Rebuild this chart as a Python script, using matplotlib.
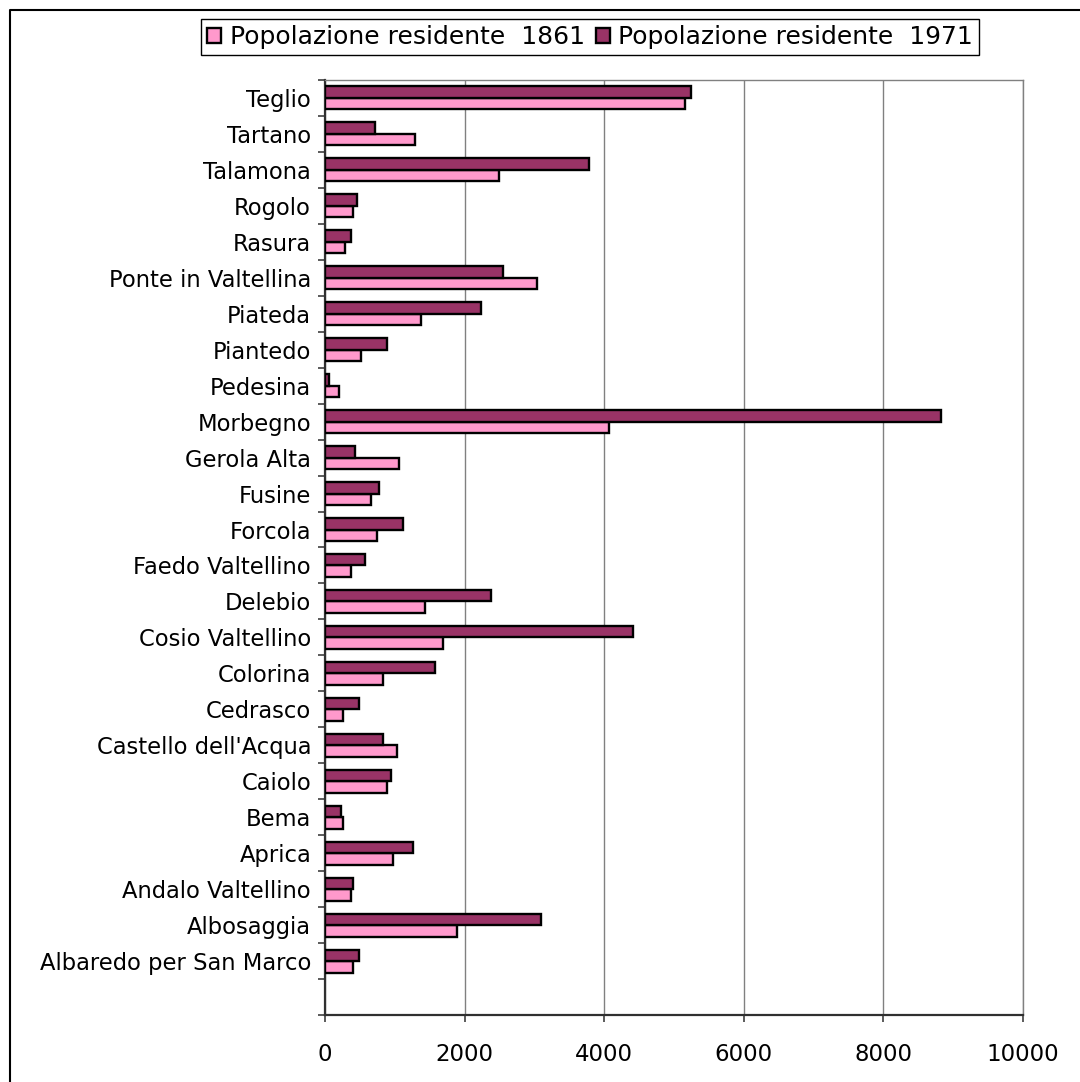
import numpy as np
import matplotlib
matplotlib.use("Agg")
import matplotlib.pyplot as plt
from matplotlib.lines import Line2D

# categories bottom -> top (first slot is empty in the original chart)
comuni = ["", "Albaredo per San Marco", "Albosaggia", "Andalo Valtellino", "Aprica",
          "Bema", "Caiolo", "Castello dell'Acqua", "Cedrasco", "Colorina",
          "Cosio Valtellino", "Delebio", "Faedo Valtellino", "Forcola", "Fusine",
          "Gerola Alta", "Morbegno", "Pedesina", "Piantedo", "Piateda",
          "Ponte in Valtellina", "Rasura", "Rogolo", "Talamona", "Tartano", "Teglio"]

pop_1861 = [0, 401, 1891, 372, 974, 258, 888, 1032, 258, 831,
            1691, 1433, 372, 745, 659, 1060, 4069, 201, 516, 1375,
            3037, 287, 397, 2493, 1289, 5157]
pop_1971 = [0, 487, 3095, 401, 1261, 229, 946, 831, 487, 1576,
            4413, 2378, 573, 1117, 774, 430, 8825, 57, 888, 2235,
            2550, 372, 458, 3782, 716, 5243]

label_1861 = "Popolazione residente  1861"
label_1971 = "Popolazione residente  1971"
x_ticks = [0, 2000, 4000, 6000, 8000, 10000]

col_1861 = "#FF99CC"
col_1971 = "#993366"

fig = plt.figure(figsize=(10.8, 10.82), dpi=100)
ax = fig.add_axes([325 / 1080, 1 - 1015 / 1082, (1023 - 325) / 1080, (1015 - 80) / 1082])

y = np.arange(len(comuni))
h = 0.32
v61 = np.array(pop_1861, dtype=float)
v71 = np.array(pop_1971, dtype=float)
mask = np.array([c != "" for c in comuni])

ax.barh(y[mask] - h / 2, v61[mask], height=h, color=col_1861,
        edgecolor="black", linewidth=1.7, label=label_1861, zorder=3)
ax.barh(y[mask] + h / 2, v71[mask], height=h, color=col_1971,
        edgecolor="black", linewidth=1.7, label=label_1971, zorder=3)

ax.set_xlim(0, 10000)
ax.set_ylim(-0.5, len(comuni) - 0.5)
ax.set_xticks(x_ticks)
ax.set_xticklabels([str(t) for t in x_ticks], fontsize=16.5)
ax.set_yticks(y)
ax.set_yticklabels(comuni, fontsize=16.3)
ax.set_yticks(np.arange(-0.5, len(comuni), 1.0), minor=True)
ax.tick_params(axis="y", which="major", length=0, pad=10)
ax.tick_params(axis="y", which="minor", length=5, width=1.2, color="#404040", direction="out")
ax.tick_params(axis="x", which="major", length=5, width=1.2, color="#404040", direction="out", pad=15)

ax.grid(axis="x", color="#808080", linewidth=1, zorder=0)
ax.set_axisbelow(True)
for side in ["top", "right"]:
    ax.spines[side].set_color("#808080")
    ax.spines[side].set_linewidth(1)
for side in ["left", "bottom"]:
    ax.spines[side].set_color("#303030")
    ax.spines[side].set_linewidth(1.6)

fig.legend(loc="center", bbox_to_anchor=(590 / 1080, 1 - 37 / 1082), ncol=2,
           fontsize=18, frameon=True, fancybox=False, edgecolor="black",
           framealpha=1, handlelength=0.55, handleheight=0.55, handletextpad=0.35,
           columnspacing=0.45, borderpad=0.25)

# outer chart frame (left and top edges visible)
fig.add_artist(Line2D([10 / 1080, 10 / 1080, 1.0], [0.0, 1 - 10 / 1082, 1 - 10 / 1082],
                      color="black", linewidth=1.5, transform=fig.transFigure))

fig.savefig("out.png", dpi=100)
